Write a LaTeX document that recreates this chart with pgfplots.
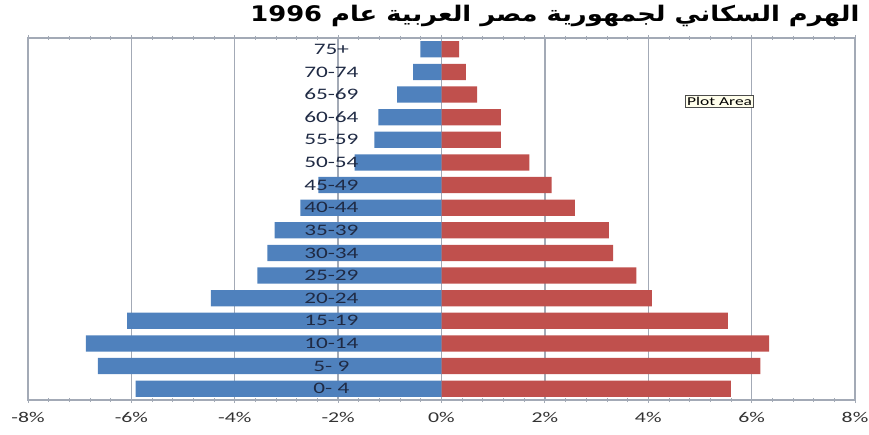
\documentclass[border=0pt]{standalone}
\usepackage{fontspec}
\usepackage{pgfplots}
\pgfplotsset{compat=1.18}
\usepackage{pgfplotstable}
\setmainfont{Carlito}[FakeStretch=1.45]
\newfontfamily\arabicfont[Script=Arabic,FakeStretch=1.2]{DejaVu Sans}
\TeXXeTstate=1
\definecolor{mblue}{HTML}{4F81BD}
\definecolor{fred}{HTML}{C0504D}
\definecolor{gridgray}{HTML}{A3AAB6}
\definecolor{labnavy}{HTML}{1F2A44}
\pgfplotstableread[col sep=comma]{
idx,male,female,lx,lab
0,-5.92,5.60,-2.13,0- 4
1,-6.65,6.17,-2.13,5- 9
2,-6.88,6.34,-2.13,10-14
3,-6.08,5.54,-2.13,15-19
4,-4.46,4.07,-2.13,20-24
5,-3.56,3.77,-2.13,25-29
6,-3.37,3.32,-2.13,30-34
7,-3.23,3.24,-2.13,35-39
8,-2.73,2.58,-2.13,40-44
9,-2.38,2.13,-2.13,45-49
10,-1.68,1.70,-2.13,50-54
11,-1.30,1.15,-2.13,55-59
12,-1.22,1.15,-2.13,60-64
13,-0.86,0.69,-2.13,65-69
14,-0.55,0.47,-2.13,70-74
15,-0.41,0.34,-2.13,75+
}\pyr
\begin{document}
\begin{tikzpicture}
\begin{axis}[
  scale only axis, width=827bp, height=362bp,
  at={(28bp,35bp)}, anchor=south west,
  xmin=-8, xmax=8, ymin=-0.5, ymax=15.5,
  xtick={-8,-6,-4,-2,0,2,4,6,8},
  xticklabels={-8\%,-6\%,-4\%,-2\%,0\%,2\%,4\%,6\%,8\%},
  minor x tick num=4,
  xmajorgrids, grid style={color=gridgray, line width=1.3bp},
  ytick=\empty,
  axis line style={gridgray, line width=1.2bp},
  x tick style={gridgray, line width=0.8bp},
  tick align=center, major tick length=6bp, minor tick length=4bp,
  xticklabel style={font=\fontsize{15bp}{17bp}\selectfont, text=black!80, yshift=-6bp},
  xbar, bar width=0.72, bar shift=0pt,
]
\addplot[fill=mblue, draw=none] table[x=male, y=idx] {\pyr};
\addplot[fill=fred, draw=none] table[x=female, y=idx] {\pyr};
\addplot[only marks, mark=none, point meta=explicit symbolic,
  nodes near coords, nodes near coords align={center},
  every node near coord/.append style={anchor=center, font=\fontsize{16bp}{18bp}\selectfont, text=labnavy}]
  table[x=lx, y=idx, meta=lab] {\pyr};
\node[draw=black!70, fill=yellow!8, font=\fontsize{12bp}{13bp}\selectfont, inner sep=1.5bp] at (axis cs:5.38,12.7) {Plot Area};
\end{axis}
\node[anchor=east, font=\arabicfont\bfseries\fontsize{21.5bp}{23bp}\selectfont] at (863bp,419bp) {\beginR الهرم السكاني لجمهورية مصر العربية عام 1996\endR};
\pgfresetboundingbox
\useasboundingbox (0,0) rectangle (869bp,435bp);
\end{tikzpicture}
\end{document}
